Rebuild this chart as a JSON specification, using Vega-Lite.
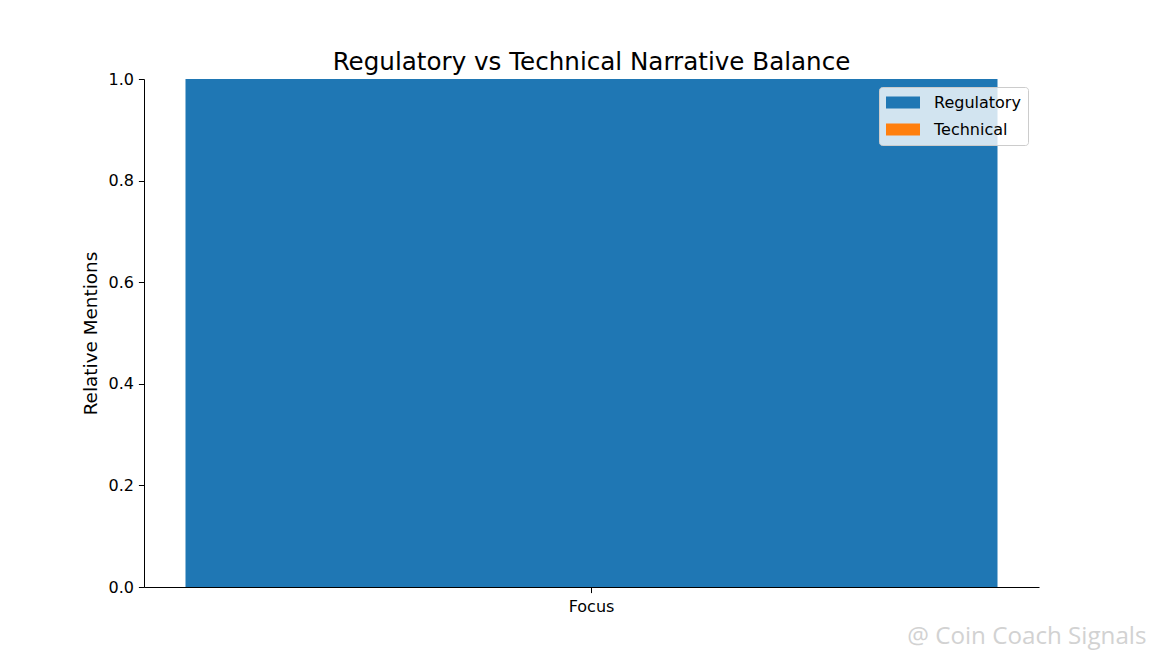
{
  "$schema": "https://vega.github.io/schema/vega-lite/v6.json",
  "width": 895,
  "height": 508,
  "autosize": {"type": "none"},
  "padding": {"left": 144, "top": 79, "right": 115, "bottom": 73},
  "background": "white",
  "config": {
    "font": "DejaVu Sans",
    "view": {"stroke": null},
    "axis": {"labelFont": "DejaVu Sans", "titleFont": "DejaVu Sans", "labelColor": "black", "titleColor": "black", "domainColor": "black", "tickColor": "black", "grid": false, "titleFontWeight": "normal"}
  },
  "title": {"text": "Regulatory vs Technical Narrative Balance", "fontSize": 24.6, "fontWeight": "normal", "font": "DejaVu Sans", "color": "black", "offset": -5},
  "data": {"values": [
    {"category": "Focus", "type": "Regulatory", "value": 1.0},
    {"category": "Focus", "type": "Technical", "value": 0.0}
  ]},
  "mark": {"type": "bar"},
  "encoding": {
    "x": {
      "field": "category", "type": "nominal",
      "scale": {"paddingInner": 0, "paddingOuter": 0.0511},
      "axis": {"labelAngle": 0, "labelFontSize": 16, "tickSize": 5.6, "labelPadding": 6,
               "title": "@ Coin Coach Signals", "titleFont": "Open Sans", "titleFontSize": 24.2, "titleColor": "#d2d2d2",
               "titleAnchor": "end", "titleAlign": "right", "titleX": 1002, "titleY": 56, "titleBaseline": "alphabetic"}
    },
    "y": {
      "field": "value", "type": "quantitative", "stack": "zero",
      "scale": {"domain": [0, 1], "nice": false},
      "axis": {"title": "Relative Mentions", "titleFontSize": 18.4, "labelFontSize": 16, "tickSize": 5.6, "labelPadding": 5, "values": [0, 0.2, 0.4, 0.6, 0.8, 1.0], "format": ".1f", "titlePadding": 7}
    },
    "color": {
      "field": "type", "type": "nominal",
      "scale": {"domain": ["Regulatory", "Technical"], "range": ["#1f77b4", "#ff7f0e"]},
      "legend": {
        "title": null, "orient": "none", "legendX": 735, "legendY": 8,
        "symbolType": "M-1,-0.7H3V0.7H-1Z", "symbolSize": 289, "symbolStrokeWidth": 0,
        "labelFontSize": 16, "labelFont": "DejaVu Sans", "labelColor": "black", "labelOffset": 31,
        "fillColor": "rgba(255,255,255,0.8)", "strokeColor": "#cccccc", "cornerRadius": 3,
        "padding": 7, "rowPadding": 10
      }
    },
    "order": {"field": "type", "sort": "ascending"}
  }
}
